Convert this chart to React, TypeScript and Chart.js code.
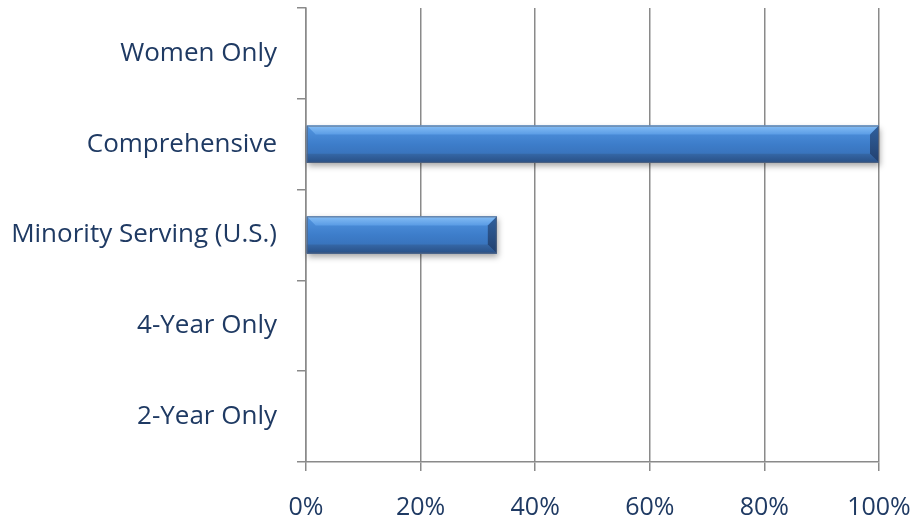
import React, { useEffect, useRef } from "react";
import { Chart, registerables } from "chart.js";

Chart.register(...registerables);

const categories = ["Women Only", "Comprehensive", "Minority Serving (U.S.)", "4-Year Only", "2-Year Only"];
const values = [0, 100, 33.3, 0, 0];
const xMin = 0;
const xMax = 100;
const xStep = 20;

const TEXT = "#1f3a63";
const GRID = "#8a8a8a";
const FONT = "'Open Sans', sans-serif";

const bevelPlugin = {
  id: "bevelBars",
  beforeDatasetsDraw(chart: any) {
    const ctx = chart.ctx;
    const meta = chart.getDatasetMeta(0);
    meta.data.forEach((bar: any, i: number) => {
      if (!(values[i] > 0)) return;
      const p = bar.getProps(["x", "y", "base", "height"], true);
      const left = Math.min(p.base, p.x);
      const right = Math.max(p.base, p.x);
      const top = p.y - p.height / 2;
      ctx.save();
      ctx.shadowColor = "rgba(0,0,0,0.35)";
      ctx.shadowBlur = 6;
      ctx.shadowOffsetY = 3;
      ctx.shadowOffsetX = 1;
      ctx.fillStyle = "#3a78c2";
      ctx.fillRect(left, top, right - left, p.height);
      ctx.restore();
    });
  },
  afterDatasetsDraw(chart: any) {
    const ctx = chart.ctx;
    const meta = chart.getDatasetMeta(0);
    meta.data.forEach((bar: any, i: number) => {
      if (!(values[i] > 0)) return;
      const p = bar.getProps(["x", "y", "base", "height"], true);
      const left = Math.min(p.base, p.x);
      const right = Math.max(p.base, p.x);
      const top = p.y - p.height / 2;
      const bottom = p.y + p.height / 2;
      const h = bottom - top;
      const b = Math.min(9, h / 4);
      ctx.save();
      const g = ctx.createLinearGradient(0, top, 0, bottom);
      g.addColorStop(0, "#5295e0");
      g.addColorStop(0.5, "#3d7dca");
      g.addColorStop(1, "#356bb0");
      ctx.fillStyle = g;
      ctx.fillRect(left, top, right - left, h);
      const gt = ctx.createLinearGradient(0, top, 0, top + b);
      gt.addColorStop(0, "#86bef5");
      gt.addColorStop(1, "#5a9ce5");
      ctx.fillStyle = gt;
      ctx.beginPath();
      ctx.moveTo(left, top);
      ctx.lineTo(right, top);
      ctx.lineTo(right - b, top + b);
      ctx.lineTo(left + b, top + b);
      ctx.closePath();
      ctx.fill();
      const gb = ctx.createLinearGradient(0, bottom - b, 0, bottom);
      gb.addColorStop(0, "#3567a6");
      gb.addColorStop(1, "#284f85");
      ctx.fillStyle = gb;
      ctx.beginPath();
      ctx.moveTo(left, bottom);
      ctx.lineTo(right, bottom);
      ctx.lineTo(right - b, bottom - b);
      ctx.lineTo(left, bottom - b);
      ctx.closePath();
      ctx.fill();
      const gr = ctx.createLinearGradient(0, top, 0, bottom);
      gr.addColorStop(0, "#30609d");
      gr.addColorStop(1, "#22406e");
      ctx.fillStyle = gr;
      ctx.beginPath();
      ctx.moveTo(right, top);
      ctx.lineTo(right, bottom);
      ctx.lineTo(right - b, bottom - b);
      ctx.lineTo(right - b, top + b);
      ctx.closePath();
      ctx.fill();
      ctx.strokeStyle = "rgba(90,100,120,0.8)";
      ctx.lineWidth = 1;
      ctx.strokeRect(left + 0.5, top + 0.5, right - left - 1, h - 1);
      ctx.restore();
    });
  },
};

const zeroPad = (s: any) => {
  s.paddingTop = 0;
  s.paddingBottom = 0;
  s.paddingLeft = 0;
  s.paddingRight = 0;
};

export default function App() {
  const ref = useRef<HTMLCanvasElement | null>(null);

  useEffect(() => {
    if (!ref.current) return;
    const chart = new Chart(ref.current, {
      type: "bar",
      data: {
        labels: categories,
        datasets: [
          {
            data: values,
            backgroundColor: "rgba(0,0,0,0)",
            borderWidth: 0,
            barPercentage: 0.41,
            categoryPercentage: 1,
          },
        ],
      },
      plugins: [bevelPlugin],
      options: {
        indexAxis: "y",
        animation: false,
        responsive: true,
        maintainAspectRatio: false,
        layout: { padding: { top: 8, right: 34, left: 0, bottom: 0 } },
        plugins: {
          legend: { display: false },
          tooltip: { enabled: false },
          title: { display: false },
        },
        scales: {
          x: {
            type: "linear",
            position: "bottom",
            min: xMin,
            max: xMax,
            ticks: {
              stepSize: xStep,
              callback: (v: any) => v + "%",
              color: TEXT,
              font: { family: FONT, size: 25 },
              padding: 22,
              maxRotation: 0,
            },
            grid: {
              color: GRID,
              lineWidth: 1.5,
              tickLength: 9,
              drawOnChartArea: true,
              drawTicks: true,
            },
            border: { display: true, color: GRID, width: 1.5 },
            afterFit: (s: any) => {
              s.height = 60;
              zeroPad(s);
            },
          },
          y: {
            type: "category",
            position: "left",
            offset: true,
            ticks: {
              color: TEXT,
              font: { family: FONT, size: 26 },
              padding: 20,
            },
            grid: {
              offset: true,
              color: GRID,
              lineWidth: 1.5,
              tickLength: 9,
              drawOnChartArea: false,
              drawTicks: true,
            },
            border: { display: true, color: GRID, width: 1.5 },
            afterFit: (s: any) => {
              s.width = 306;
              zeroPad(s);
            },
          },
        },
      },
    });
    return () => chart.destroy();
  }, []);

  return (
    <div style={{ position: "fixed", left: 0, top: 0, width: 913, height: 522, background: "#fff" }}>
      <canvas ref={ref} />
    </div>
  );
}
